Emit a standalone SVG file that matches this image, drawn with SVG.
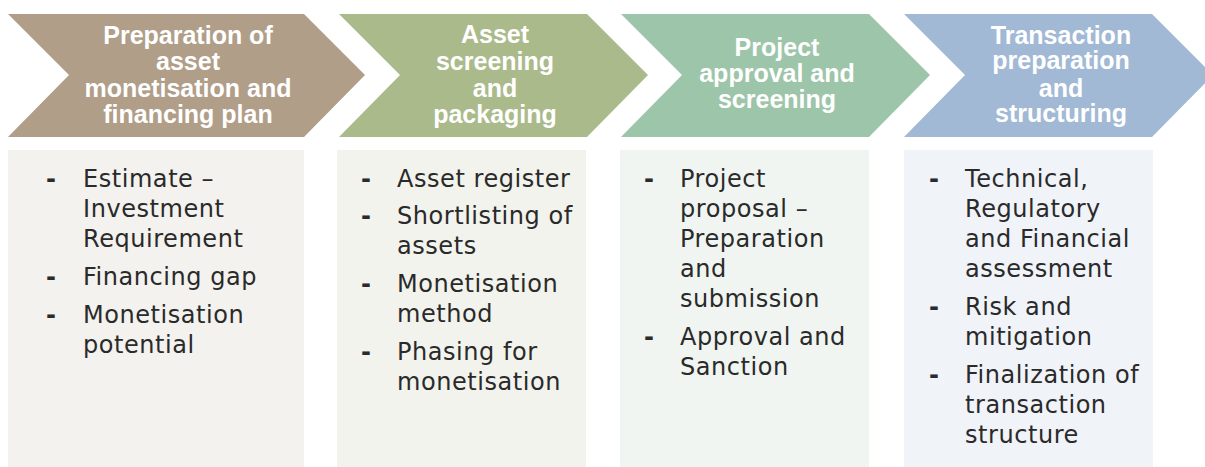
<svg xmlns="http://www.w3.org/2000/svg" width="1205" height="467" viewBox="0 0 1205 467">
<style>
.title{font-family:"Liberation Sans",Arial,sans-serif;font-weight:bold;font-size:25px;fill:#ffffff;text-anchor:middle}
.item{font-family:"DejaVu Sans",sans-serif;font-size:24px;letter-spacing:0.55px;fill:#2a2a2a}
.dash{font-family:"DejaVu Sans",sans-serif;font-size:24px;font-weight:bold;fill:#2a2a2a}
</style>
<rect width="1205" height="467" fill="#ffffff"/>
<g id="stage1">
<polygon points="8,14 304,14 365,75 304,137 8,137 69,75" fill="#b09e88"/>
<text class="title"><tspan x="188" y="44">Preparation of</tspan><tspan x="188" y="70">asset</tspan><tspan x="188" y="97">monetisation and</tspan><tspan x="188" y="123">financing plan</tspan></text>
</g>
<g id="stage2">
<polygon points="339,14 587,14 648,75 587,137 339,137 400,75" fill="#abba8b"/>
<text class="title"><tspan x="495" y="43">Asset</tspan><tspan x="495" y="69.5">screening</tspan><tspan x="495" y="96.5">and</tspan><tspan x="495" y="123">packaging</tspan></text>
</g>
<g id="stage3">
<polygon points="621,14 869,14 930,75 869,137 621,137 682,75" fill="#9dc5a9"/>
<text class="title"><tspan x="777" y="56">Project</tspan><tspan x="777" y="82">approval and</tspan><tspan x="777" y="107.5">screening</tspan></text>
</g>
<g id="stage4">
<polygon points="904,14 1152,14 1213,75 1152,137 904,137 965,75" fill="#a1b9d5"/>
<text class="title"><tspan x="1061" y="43.5">Transaction</tspan><tspan x="1061" y="69">preparation</tspan><tspan x="1061" y="96.5">and</tspan><tspan x="1061" y="122">structuring</tspan></text>
</g>
<g id="box1">
<rect x="8" y="150" width="296" height="317" fill="#f3f2ee"/>
<text class="dash"><tspan x="46" y="187">-</tspan><tspan x="46" y="285">-</tspan><tspan x="46" y="323">-</tspan></text>
<text class="item"><tspan x="83" y="187">Estimate –</tspan><tspan x="83" y="217">Investment</tspan><tspan x="83" y="247">Requirement</tspan><tspan x="83" y="285">Financing gap</tspan><tspan x="83" y="323">Monetisation</tspan><tspan x="83" y="353">potential</tspan></text>
</g>
<g id="box2">
<rect x="337" y="150" width="249" height="317" fill="#f2f3ed"/>
<text class="dash"><tspan x="361" y="187">-</tspan><tspan x="361" y="224">-</tspan><tspan x="361" y="292">-</tspan><tspan x="361" y="360">-</tspan></text>
<text class="item"><tspan x="397" y="187">Asset register</tspan><tspan x="397" y="224">Shortlisting of</tspan><tspan x="397" y="254">assets</tspan><tspan x="397" y="292">Monetisation</tspan><tspan x="397" y="322">method</tspan><tspan x="397" y="360">Phasing for</tspan><tspan x="397" y="390">monetisation</tspan></text>
</g>
<g id="box3">
<rect x="620" y="150" width="249" height="317" fill="#f0f5f1"/>
<text class="dash"><tspan x="644" y="187">-</tspan><tspan x="644" y="345">-</tspan></text>
<text class="item"><tspan x="680" y="187">Project</tspan><tspan x="680" y="217">proposal –</tspan><tspan x="680" y="247">Preparation</tspan><tspan x="680" y="277">and</tspan><tspan x="680" y="307">submission</tspan><tspan x="680" y="345">Approval and</tspan><tspan x="680" y="375">Sanction</tspan></text>
</g>
<g id="box4">
<rect x="904" y="150" width="249" height="317" fill="#f0f3f8"/>
<text class="dash"><tspan x="929" y="187">-</tspan><tspan x="929" y="315">-</tspan><tspan x="929" y="383">-</tspan></text>
<text class="item"><tspan x="965" y="187">Technical,</tspan><tspan x="965" y="217">Regulatory</tspan><tspan x="965" y="247">and Financial</tspan><tspan x="965" y="277">assessment</tspan><tspan x="965" y="315">Risk and</tspan><tspan x="965" y="345">mitigation</tspan><tspan x="965" y="383">Finalization of</tspan><tspan x="965" y="413">transaction</tspan><tspan x="965" y="443">structure</tspan></text>
</g>
<g id="connectors"></g>
</svg>
